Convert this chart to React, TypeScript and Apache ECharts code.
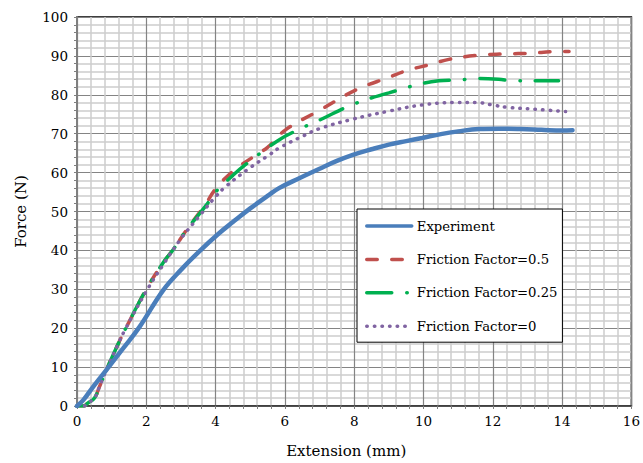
import React, { useEffect, useRef } from "react";
import * as echarts from "echarts";

// Extension (mm) / Force (N) readings
const expX = [0, 0.18, 0.47, 0.85, 1.33, 1.81, 2.49, 3, 3.5, 4.1, 4.5, 5, 5.5, 5.83, 6.4, 7, 7.5, 7.94, 8.5, 9, 9.5, 9.96, 10.5, 11, 11.6, 12.2, 12.8, 13.4, 14, 14.3];
const expY = [0, 1.5, 5, 9.3, 14.8, 20.4, 29.8, 35, 39.5, 44.4, 47.3, 50.8, 54, 56, 58.5, 61, 63, 64.5, 66, 67.2, 68.1, 68.9, 69.9, 70.6, 71.2, 71.3, 71.2, 71, 70.8, 70.9];

const f05X = [0, 0.2, 0.3, 0.5, 0.65, 0.85, 1.19, 1.38, 2, 2.5, 2.8, 3.14, 3.72, 4, 4.48, 5.16, 5.5, 6.02, 7, 8.04, 9, 9.58, 10.2, 10.73, 11.6, 12.36, 13.1, 13.8, 14.2];
const f05Y = [0, 0, 0.7, 2, 5, 9.3, 16, 19.5, 30, 37, 40.5, 45, 52, 55.8, 60.2, 64.5, 66.5, 71, 76, 81.2, 84.5, 86.4, 87.8, 89.1, 90.2, 90.5, 90.7, 91.1, 91.1];

const f025X = [0, 0.2, 0.3, 0.5, 0.65, 0.85, 1.19, 1.38, 2, 2.5, 2.8, 3.14, 3.72, 4, 4.5, 5, 5.83, 6.5, 7, 7.93, 9, 10.44, 11, 11.6, 12.17, 12.6, 13.8, 13.9];
const f025Y = [0, 0, 0.7, 2, 5, 9.3, 16, 19.5, 30, 37, 40.5, 45, 51.5, 55, 59.3, 63, 68.4, 71.5, 73.5, 77.4, 80.5, 83.6, 83.8, 84.2, 84, 83.6, 83.6, 83.6];

const f0X = [0, 0.2, 0.3, 0.5, 0.65, 0.85, 1.19, 1.38, 2, 2.5, 3, 3.5, 4, 4.29, 4.97, 5.54, 5.83, 6.5, 7, 7.94, 9, 9.96, 10.87, 11.55, 11.98, 12.4, 13.2, 14.1];
const f0Y = [0, 0, 0.7, 2, 5, 9.3, 16, 19.5, 29.5, 36.5, 43, 48.5, 53.8, 56.4, 61.1, 64.5, 66.3, 69.3, 71.3, 73.7, 75.8, 77.4, 78, 78, 77.4, 76.8, 76.3, 75.7];

const seriesNames = ["Experiment", "Friction Factor=0.5", "Friction Factor=0.25", "Friction Factor=0"];
const xTitle = "Extension (mm)";
const yTitle = "Force (N)";

const FONT = "DejaVu Serif";

const zip = (xs: number[], ys: number[]) => xs.map((x, i) => [x, ys[i]]);

export default function App() {
  const ref = useRef<HTMLDivElement>(null);
  useEffect(() => {
    if (!ref.current) return;
    const chart = echarts.init(ref.current, undefined, { renderer: "svg" });
    const common = {
      type: "line",
      symbol: "none",
      showSymbol: false,
      smooth: 0.4,
      animation: false,
    };
    chart.setOption({
      animation: false,
      backgroundColor: "#fff",
      textStyle: { fontFamily: FONT },
      grid: {
        left: 77,
        right: 10,
        top: 17,
        bottom: 57,
        show: true,
        borderColor: "#000",
        borderWidth: 1.5,
        backgroundColor: "transparent",
      },
      legend: {
        orient: "vertical",
        left: 357,
        top: 209,
        backgroundColor: "#fff",
        borderColor: "#000",
        borderWidth: 1,
        borderRadius: 0,
        padding: [9, 5, 8, 8],
        itemGap: 17.4,
        itemWidth: 45,
        itemHeight: 16,
        itemStyle: { opacity: 0 },
        lineStyle: { width: 3.5 },
        textStyle: { fontFamily: FONT, fontSize: 13.2, color: "#000", lineHeight: 16 },
        data: seriesNames,
      },
      xAxis: {
        type: "value",
        min: 0,
        max: 16,
        interval: 2,
        name: xTitle,
        nameLocation: "middle",
        nameGap: 37,
        nameTextStyle: { fontFamily: FONT, fontSize: 15, color: "#000", padding: [0, 16, 0, 0] },
        axisLine: { show: true, lineStyle: { color: "#404040", width: 1.5 } },
        axisTick: { show: true, length: 3, lineStyle: { color: "#7f7f7f" } },
        minorTick: { show: true, splitNumber: 5, length: 3, lineStyle: { color: "#7f7f7f" } },
        axisLabel: { fontFamily: FONT, fontSize: 13.5, color: "#000", margin: 8 },
        splitLine: { show: true, lineStyle: { color: "#848484", width: 1.2 } },
        minorSplitLine: { show: true, lineStyle: { color: "#cdcdcd", width: 1.5 } },
      },
      yAxis: {
        type: "value",
        min: 0,
        max: 100,
        interval: 10,
        name: yTitle,
        nameLocation: "middle",
        nameGap: 49,
        nameTextStyle: { fontFamily: FONT, fontSize: 15, color: "#000" },
        axisLine: { show: true, lineStyle: { color: "#7f7f7f", width: 2 } },
        axisTick: { show: true, length: 3, lineStyle: { color: "#7f7f7f" } },
        minorTick: { show: true, splitNumber: 5, length: 3, lineStyle: { color: "#7f7f7f" } },
        axisLabel: { fontFamily: FONT, fontSize: 13.5, color: "#000", margin: 9 },
        splitLine: { show: true, lineStyle: { color: "#848484", width: 1.2 } },
        minorSplitLine: { show: true, lineStyle: { color: "#cdcdcd", width: 1.5 } },
      },
      series: [
        {
          ...common,
          name: seriesNames[0],
          data: zip(expX, expY),
          z: 5,
          lineStyle: { color: "#4a7ebb", width: 4.5, cap: "round" },
          itemStyle: { color: "#4a7ebb" },
        },
        {
          ...common,
          name: seriesNames[1],
          data: zip(f05X, f05Y),
          z: 4,
          lineStyle: { color: "#c0504d", width: 3.5, type: [10.5, 14.5], cap: "round" },
          itemStyle: { color: "#c0504d" },
        },
        {
          ...common,
          name: seriesNames[2],
          data: zip(f025X, f025Y),
          z: 4,
          lineStyle: { color: "#00b050", width: 3.5, type: [25, 15, 0.5, 15], cap: "round" },
          itemStyle: { color: "#00b050" },
        },
        {
          ...common,
          name: seriesNames[3],
          data: zip(f0X, f0Y),
          z: 4,
          lineStyle: { color: "#8064a2", width: 3.5, type: [0.5, 7.1], cap: "round" },
          itemStyle: { color: "#8064a2" },
        },
      ],
    });
    return () => chart.dispose();
  }, []);
  return <div ref={ref} style={{ width: 643, height: 463, position: "absolute", left: 0, top: 0 }} />;
}
